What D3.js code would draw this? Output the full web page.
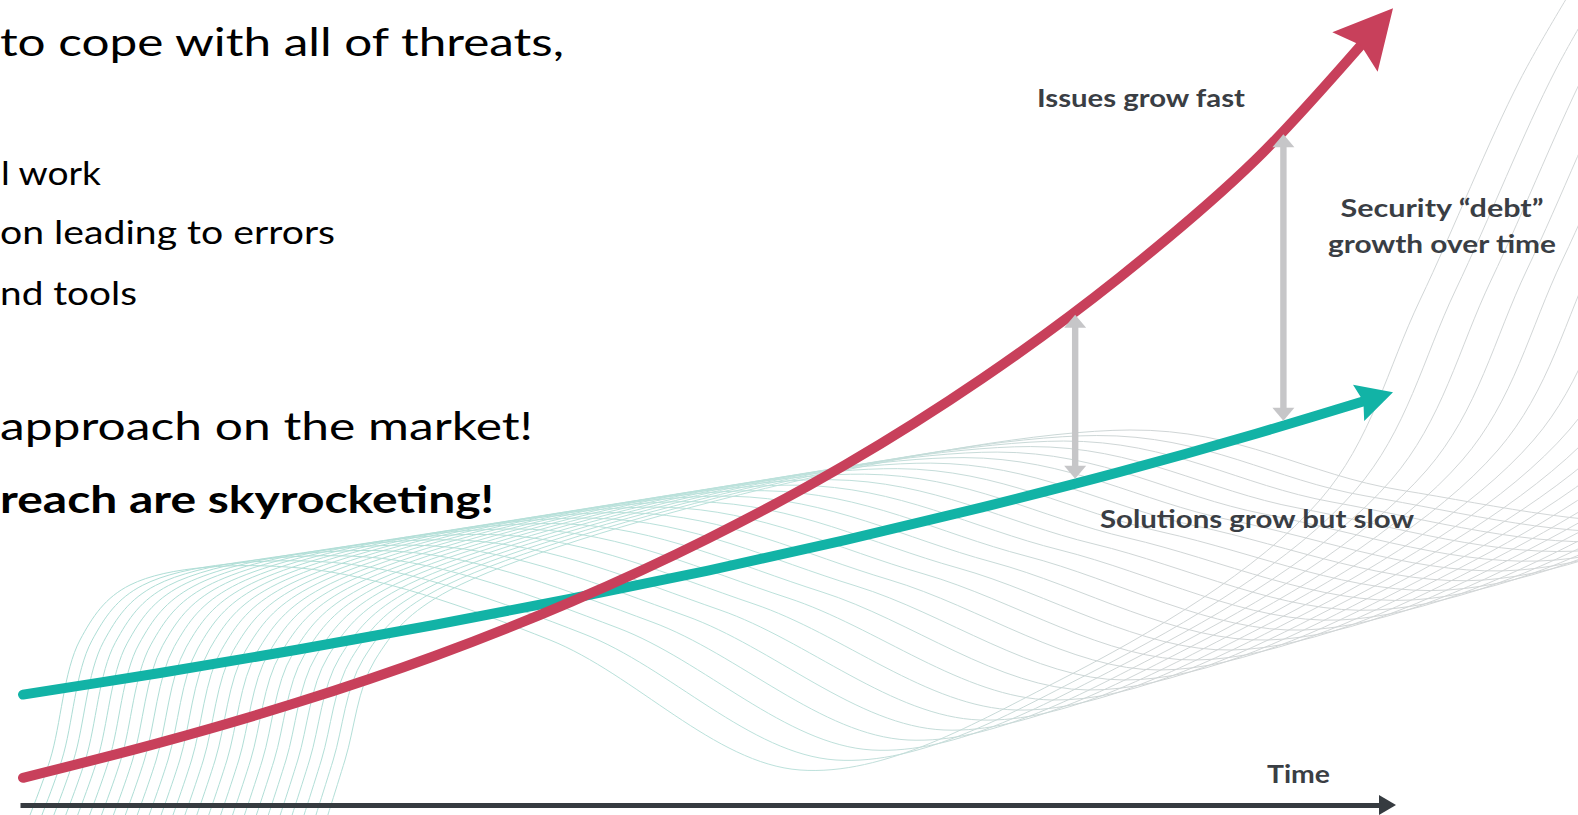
<!DOCTYPE html>
<html>
<head>
<meta charset="utf-8">
<script src="https://cdn.jsdelivr.net/npm/d3@7"></script>
<style>
  html, body { margin: 0; padding: 0; background: #ffffff; overflow: hidden; }
  svg { display: block; }
</style>
</head>
<body>
<svg id="chart" width="1578" height="815"></svg>
<script>
// ---- data -------------------------------------------------------------
// Time steps along the horizontal axis
const timeSteps = [0, 1, 2, 3, 4, 5, 6, 7, 8, 9, 10];
// Growth of security issues vs. growth of available solutions (relative units)
const issues    = [3.4, 7.8, 12.8, 18.6, 25.4, 33.3, 42.5, 53.3, 65.9, 80.7, 99.6];
const solutions = [13.8, 16.5, 19.4, 22.5, 25.8, 29.3, 33.1, 37.2, 41.6, 46.4, 51.6];
// Moments where the gap between the two curves is highlighted
const debtMarks = [7.68, 9.2];

// ---- text -------------------------------------------------------------
const bodyText = [
  "to cope with all of threats,",
  "l work",
  "on leading to errors",
  "nd tools",
  "approach on the market!",
  "reach are skyrocketing!"
];
const issuesLabel = "Issues grow fast";
const debtLabel = ["Security \u201Cdebt\u201D", "growth over time"];
const solutionsLabel = "Solutions grow but slow";
const axisLabel = "Time";

// ---- layout -----------------------------------------------------------
const W = 1578, H = 815;
const svg = d3.select("#chart");
const defs = svg.append("defs");

const x = d3.scaleLinear().domain([0, 10]).range([23, 1393]);
const y = d3.scaleLinear().domain([0, 100]).range([805, 5]);

// ---- decorative wave ribbon behind the chart -----------------------------
const tint = defs.append("linearGradient")
  .attr("id", "ribbonTint").attr("gradientUnits", "userSpaceOnUse")
  .attr("x1", 0).attr("y1", 0).attr("x2", W).attr("y2", 0);
tint.append("stop").attr("offset", "0%").attr("stop-color", "#8fd1c6");
tint.append("stop").attr("offset", "50%").attr("stop-color", "#a6d8d0");
tint.append("stop").attr("offset", "72%").attr("stop-color", "#c0c7c8");
tint.append("stop").attr("offset", "100%").attr("stop-color", "#c4c9ca");

// outer strands of the ribbon; the strands in between are blended from these two
const ribbonFirst = [[20,840],[50,760],[80,640],[130,585],[300,568],[550,640],[800,770],
                     [1060,680],[1320,500],[1420,300],[1520,80],[1590,-40]];
const ribbonLast  = [[320,840],[345,760],[375,660],[450,590],[1130,430],[1400,490],[1700,520],
                     [1960,430],[2210,250],[2310,50],[2410,-170],[2480,-290]];
const strandCount = 26;

const strandLine = d3.line().curve(d3.curveCatmullRom.alpha(0.5));
const ribbon = svg.append("g").attr("class", "ribbon")
  .attr("fill", "none").attr("stroke", "url(#ribbonTint)")
  .attr("stroke-width", 1).attr("opacity", 0.75);
d3.range(strandCount).forEach(i => {
  const t = i / (strandCount - 1);
  const pts = ribbonFirst.map((p, k) => [
    p[0] + (ribbonLast[k][0] - p[0]) * t,
    p[1] + (ribbonLast[k][1] - p[1]) * t
  ]);
  ribbon.append("path").attr("d", strandLine(pts));
});

// ---- body text on the left ---------------------------------------------
const bodyLayout = [
  { x: 0, y: 56,  size: 39, w: 564, weight: 400 },
  { x: 1, y: 185, size: 33, w: 100, weight: 400 },
  { x: 0, y: 244, size: 33, w: 335, weight: 400 },
  { x: 0, y: 305, size: 33, w: 137, weight: 400 },
  { x: 0, y: 440, size: 39, w: 533, weight: 400 },
  { x: 0, y: 513, size: 38, w: 494, weight: 700 }
];
svg.append("g").attr("class", "body-text")
  .selectAll("text").data(bodyText).join("text")
  .attr("x", (d, i) => bodyLayout[i].x)
  .attr("y", (d, i) => bodyLayout[i].y)
  .attr("font-family", "Lato, 'Open Sans', sans-serif")
  .attr("font-size", (d, i) => bodyLayout[i].size)
  .attr("font-weight", (d, i) => bodyLayout[i].weight)
  .attr("textLength", (d, i) => bodyLayout[i].w)
  .attr("lengthAdjust", "spacingAndGlyphs")
  .attr("fill", "#000000")
  .text(d => d);

// ---- time axis ----------------------------------------------------------
const axisG = svg.append("g").attr("class", "time-axis")
  .attr("transform", `translate(0,${y(0)})`)
  .call(d3.axisBottom(x).tickValues([]).tickSizeOuter(0));
axisG.select(".domain")
  .attr("stroke", "#363b40").attr("stroke-width", 5)
  .attr("transform", "translate(-3,0)");
const axisEnd = x(10);
svg.append("path")
  .attr("d", `M${axisEnd - 14},${y(0) - 10} L${axisEnd + 3},${y(0)} L${axisEnd - 14},${y(0) + 10} Z`)
  .attr("fill", "#363b40");

// ---- growth curves ------------------------------------------------------
const curve = d3.line()
  .x((d, i) => x(timeSteps[i]))
  .y(d => y(d))
  .curve(d3.curveCatmullRom.alpha(0.5));

function headPoints(tip, from, len, halfW, notch) {
  const dx = tip.x - from.x, dy = tip.y - from.y;
  const d = Math.hypot(dx, dy), ux = dx / d, uy = dy / d;
  const bx = tip.x - ux * len, by = tip.y - uy * len;
  const nx = -uy, ny = ux;
  return [[tip.x, tip.y], [bx + nx * halfW, by + ny * halfW],
          [bx + ux * notch, by + uy * notch], [bx - nx * halfW, by - ny * halfW]];
}

const seriesList = [
  { key: "solutions", values: solutions, color: "#12b3a6", head: { len: 36, halfW: 19, notch: 5 } },
  { key: "issues",    values: issues,    color: "#c8405b", head: { len: 58, halfW: 30, notch: 9 } }
];
const paths = {};
seriesList.forEach(s => {
  const g = svg.append("g").attr("class", "series-" + s.key);
  const p = g.append("path")
    .attr("d", curve(s.values))
    .attr("fill", "none")
    .attr("stroke", s.color)
    .attr("stroke-width", 10)
    .attr("stroke-linecap", "round");
  const node = p.node();
  const L = node.getTotalLength();
  p.attr("stroke-dasharray", `${L - s.head.len + s.head.notch + 2} ${L}`);
  const tip = node.getPointAtLength(L);
  const from = node.getPointAtLength(L - s.head.len);
  g.append("polygon")
    .attr("points", headPoints(tip, from, s.head.len, s.head.halfW, s.head.notch).map(q => q.join(",")).join(" "))
    .attr("fill", s.color);
  paths[s.key] = node;
});

// ---- gap markers between the curves -----------------------------------
function yAtX(node, xv) {
  let lo = 0, hi = node.getTotalLength();
  for (let i = 0; i < 40; i++) {
    const mid = (lo + hi) / 2;
    if (node.getPointAtLength(mid).x < xv) lo = mid; else hi = mid;
  }
  return node.getPointAtLength((lo + hi) / 2).y;
}
const gapG = svg.append("g").attr("class", "debt-markers").attr("fill", "#c6c6c8");
debtMarks.forEach(t => {
  const cx = x(t);
  const top = yAtX(paths.issues, cx) + 3;
  const bot = yAtX(paths.solutions, cx) - 5;
  const hw = 11, hh = 13, sw = 3.2;
  gapG.append("rect").attr("x", cx - sw).attr("y", top + hh - 1)
    .attr("width", sw * 2).attr("height", bot - top - 2 * hh + 2);
  gapG.append("polygon").attr("points", `${cx},${top} ${cx + hw},${top + hh} ${cx - hw},${top + hh}`);
  gapG.append("polygon").attr("points", `${cx},${bot} ${cx + hw},${bot - hh} ${cx - hw},${bot - hh}`);
});

// ---- annotations ------------------------------------------------------
const labelFont = "Lato, 'Open Sans', sans-serif";
function label(txt, xPos, yPos, width, anchor) {
  svg.append("text")
    .attr("x", xPos).attr("y", yPos)
    .attr("text-anchor", anchor || "start")
    .attr("font-family", labelFont)
    .attr("font-size", 25)
    .attr("font-weight", 700)
    .attr("fill", "#3a3e44")
    .attr("textLength", width)
    .attr("lengthAdjust", "spacingAndGlyphs")
    .text(txt);
}
label(issuesLabel, 1037, 107, 208);
label(debtLabel[0], 1442, 217, 203, "middle");
label(debtLabel[1], 1442, 253, 228, "middle");
label(solutionsLabel, 1100, 528, 314);
label(axisLabel, 1267, 783, 63);
</script>
</body>
</html>
